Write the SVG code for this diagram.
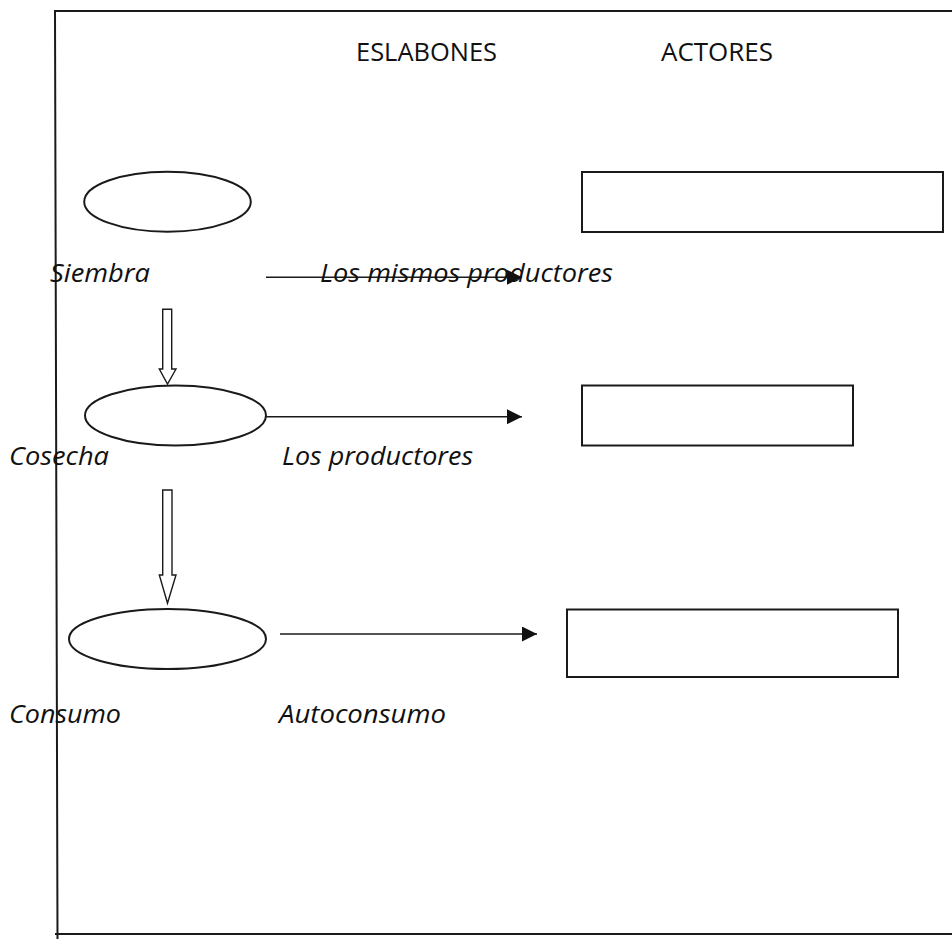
<svg xmlns="http://www.w3.org/2000/svg" width="952" height="939" viewBox="0 0 952 939">
<style>
.frame{fill:none;stroke:#1a1a1a;stroke-width:2}
.node{fill:#fff;stroke:#1a1a1a;stroke-width:2}
.conn{fill:none;stroke:#1a1a1a;stroke-width:1.6}
.hollow{fill:#fff;stroke:#1a1a1a;stroke-width:1.4}
.h{font-family:"Open Sans","Noto Sans",sans-serif;font-size:25.5px;fill:#111}
.lbl{font-family:"Open Sans","Noto Sans",sans-serif;font-size:25.5px;font-style:italic;fill:#111}
</style>
<defs>
<marker id="ah" markerWidth="15" markerHeight="15" refX="15" refY="7.5" orient="auto" markerUnits="userSpaceOnUse">
<path d="M0,0 L15,7.5 L0,15 Z" fill="#111"/>
</marker>
</defs>
<rect width="952" height="939" fill="#fff"/>
<g id="frame">
<path class="frame" d="M952,11 L55,11 L57.5,939"/>
<path class="frame" d="M55,934 L952,934"/>
</g>
<g id="headers">
<text class="h" x="356" y="61" textLength="141" lengthAdjust="spacingAndGlyphs">ESLABONES</text>
<text class="h" x="661" y="61" textLength="112" lengthAdjust="spacingAndGlyphs">ACTORES</text>
</g>
<g id="siembra">
<ellipse class="node" cx="167.5" cy="201.7" rx="83.3" ry="30"/>
</g>
<g id="cosecha">
<ellipse class="node" cx="175.5" cy="415.5" rx="90.5" ry="30"/>
</g>
<g id="consumo">
<ellipse class="node" cx="167.5" cy="639" rx="98.5" ry="30"/>
</g>
<g id="actor1"><rect class="node" x="582" y="172" width="361" height="60"/></g>
<g id="actor2"><rect class="node" x="582" y="385.5" width="271" height="60"/></g>
<g id="actor3"><rect class="node" x="567" y="609.5" width="331" height="67.5"/></g>
<g id="connectors">
<path class="hollow" d="M162.7,309.3 L171.7,309.3 L171.7,369 L176,369 L167.5,384 L159.3,369 L162.7,369 Z"/>
<path class="hollow" d="M162.7,490 L172,490 L172,575 L176,575 L167.5,603.3 L159.3,575 L162.7,575 Z"/>
<line class="conn" x1="266" y1="277.3" x2="522" y2="277.3" marker-end="url(#ah)"/>
<line class="conn" x1="266" y1="416.7" x2="522" y2="416.7" marker-end="url(#ah)"/>
<line class="conn" x1="280" y1="634" x2="537" y2="634" marker-end="url(#ah)"/>
</g>
<g id="labels">
<text class="lbl" x="50" y="282" textLength="100" lengthAdjust="spacingAndGlyphs">Siembra</text>
<text class="lbl" x="320" y="282" textLength="293" lengthAdjust="spacingAndGlyphs">Los mismos productores</text>
<text class="lbl" x="9" y="465" textLength="100" lengthAdjust="spacingAndGlyphs">Cosecha</text>
<text class="lbl" x="282" y="465" textLength="191" lengthAdjust="spacingAndGlyphs">Los productores</text>
<text class="lbl" x="9" y="723" textLength="112" lengthAdjust="spacingAndGlyphs">Consumo</text>
<text class="lbl" x="279" y="723" textLength="167" lengthAdjust="spacingAndGlyphs">Autoconsumo</text>
</g>
</svg>
